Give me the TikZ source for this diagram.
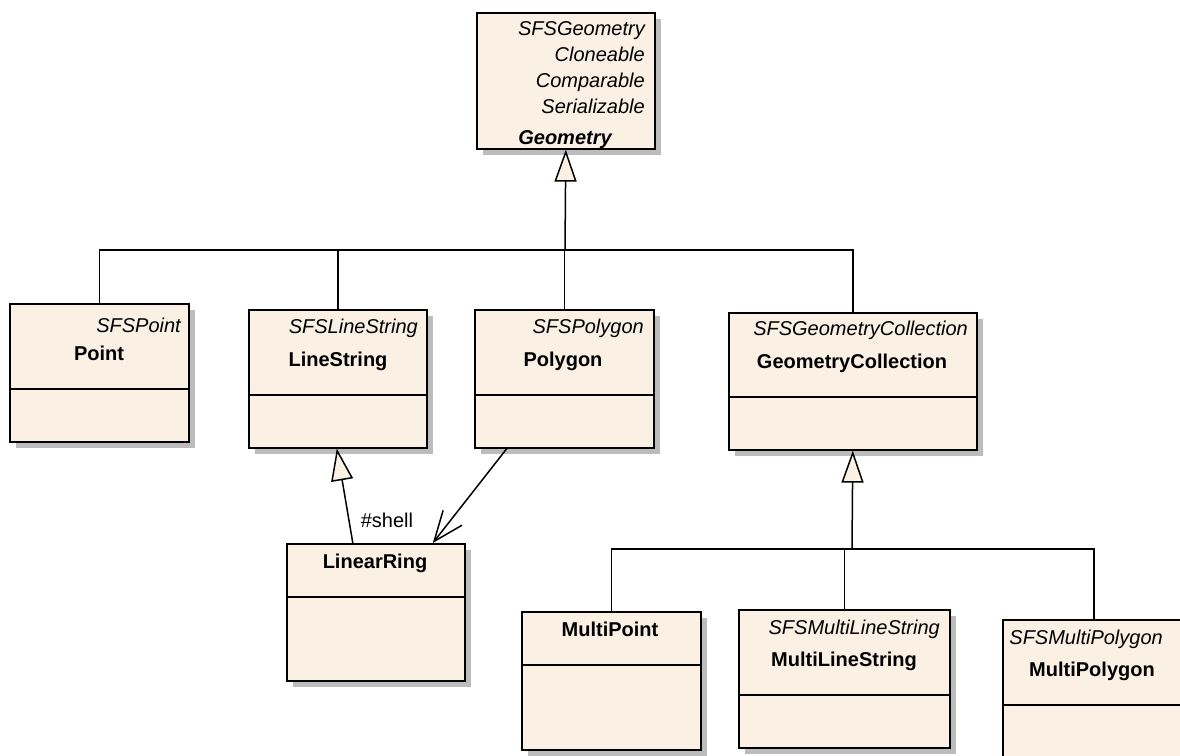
\documentclass[tikz,border=0pt]{standalone}
\usepackage{fontspec}
\setmainfont{Liberation Sans}
\usetikzlibrary{arrows.meta,shadows}
\definecolor{classbg}{RGB}{250,240,227}
\definecolor{classshade}{RGB}{188,188,188}
\tikzset{
  cls/.style={draw, line width=1.6pt, fill=classbg, anchor=north west, inner sep=0pt,
    drop shadow={shadow xshift=6pt, shadow yshift=-6pt, fill=classshade, opacity=1}},
  stereo/.style={font=\fontsize{20}{23}\selectfont\itshape, anchor=mid east, inner sep=0pt, yshift=-4pt},
  cname/.style={font=\fontsize{20}{23}\selectfont\bfseries, anchor=mid, inner sep=0pt, yshift=-4pt},
  plain/.style={font=\fontsize{20}{23}\selectfont, anchor=mid, inner sep=0pt, yshift=-4pt},
  conn/.style={line width=1.5pt},
  gen/.style={conn, -{Triangle[length=32pt,width=22pt,fill=classbg]}},
  assoc/.style={conn, -{Straight Barb[length=30pt,width=24pt]}},
  divider/.style={line width=1.6pt}
}
\begin{document}
\begin{tikzpicture}[x=1pt,y=-1pt]
\clip (0,0) rectangle (1180,755);

% class boxes
\node[cls, minimum width=178pt, minimum height=136pt] (geometry) at (476,12) {};
\node[cls, minimum width=179pt, minimum height=138pt] (point) at (9,303) {};
\node[cls, minimum width=178pt, minimum height=138pt] (linestring) at (248,309) {};
\node[cls, minimum width=179pt, minimum height=138pt] (polygon) at (474,309) {};
\node[cls, minimum width=248pt, minimum height=137pt] (gc) at (728,312) {};
\node[cls, minimum width=178pt, minimum height=137pt] (linearring) at (286,543) {};
\node[cls, minimum width=179pt, minimum height=138pt] (multipoint) at (521,611) {};
\node[cls, minimum width=211pt, minimum height=138pt] (multilinestring) at (738,609) {};
\node[cls, minimum width=182pt, minimum height=150pt] (multipolygon) at (1002,619) {};

% compartment dividers
\draw[divider] ([yshift=-86pt]point.north west) -- ([yshift=-86pt]point.north east);
\draw[divider] ([yshift=-86pt]linestring.north west) -- ([yshift=-86pt]linestring.north east);
\draw[divider] ([yshift=-86pt]polygon.north west) -- ([yshift=-86pt]polygon.north east);
\draw[divider] ([yshift=-85pt]gc.north west) -- ([yshift=-85pt]gc.north east);
\draw[divider] ([yshift=-54pt]linearring.north west) -- ([yshift=-54pt]linearring.north east);
\draw[divider] ([yshift=-54pt]multipoint.north west) -- ([yshift=-54pt]multipoint.north east);
\draw[divider] ([yshift=-86pt]multilinestring.north west) -- ([yshift=-86pt]multilinestring.north east);
\draw[divider] ([yshift=-86pt]multipolygon.north west) -- ([yshift=-86pt]multipolygon.north east);

% Geometry: interfaces and abstract name
\node[stereo] (geo-s1) at (645,29) {SFSGeometry};
\node[stereo] (geo-s2) at (645,55) {Cloneable};
\node[stereo] (geo-s3) at (645,81) {Comparable};
\node[stereo] (geo-s4) at (645,107) {Serializable};
\node[cname, font=\fontsize{20}{23}\selectfont\bfseries\itshape] (geo-nm) at (565,138) {Geometry};

% other class texts
\node[stereo] (point-st) at (181,326) {SFSPoint};
\node[cname] (point-nm) at (99,354) {Point};
\node[stereo] (ls-st) at (418,327) {SFSLineString};
\node[cname] (ls-nm) at (338,360) {LineString};
\node[stereo] (poly-st) at (644,327) {SFSPolygon};
\node[cname] (poly-nm) at (563,360) {Polygon};
\node[stereo] (gc-st) at (968,329) {SFSGeometryCollection};
\node[cname] (gc-nm) at (852,362) {GeometryCollection};
\node[cname] (lr-nm) at (375,562) {LinearRing};
\node[cname] (mp-nm) at (610,630) {MultiPoint};
\node[stereo] (mls-st) at (940,628) {SFSMultiLineString};
\node[cname] (mls-nm) at (844,660) {MultiLineString};
\node[stereo] (mpg-st) at (1163,638) {SFSMultiPolygon};
\node[cname] (mpg-nm) at (1092,670) {MultiPolygon};

% generalisation tree to Geometry
\coordinate (trunk) at (565,250);
\draw[conn] (point.north) |- (trunk);
\draw[conn] (linestring.north) |- (trunk);
\draw[conn] (polygon.north) |- (trunk);
\draw[conn] (gc.north) |- (trunk);
\draw[gen] (trunk) -- (geometry.south);

% generalisation tree to GeometryCollection
\coordinate (trunk2) at (852,549);
\draw[conn] (multipoint.north) |- (trunk2);
\draw[conn] (multilinestring.north) |- (trunk2);
\draw[conn] (multipolygon.north) |- (trunk2);
\draw[gen] (trunk2) -- (gc.south);

% LinearRing specialises LineString
\draw[gen] ([xshift=-23pt]linearring.north) -- ([xshift=-1pt]linestring.south);

% Polygon shell association
\draw[assoc] ([xshift=-57.5pt]polygon.south) -- ([xshift=57pt]linearring.north);
\node[plain] (shell) at (387,521) {\#shell};
\end{tikzpicture}
\end{document}
